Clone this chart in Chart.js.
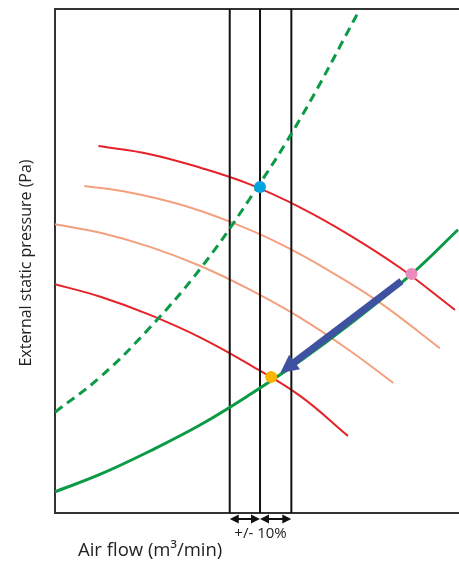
<!DOCTYPE html>
<html>
<head>
<meta charset="utf-8">
<script src="https://cdn.jsdelivr.net/npm/chart.js@4.4.1/dist/chart.umd.min.js"></script>
<style>
  html, body { margin: 0; padding: 0; background: #fff; overflow: hidden; }
  canvas { display: block; }
</style>
</head>
<body>
<canvas id="fanChart" width="465" height="563"></canvas>
<script>
// fan curves (air flow, static pressure)
const fanHighX = [4.3, 9.4, 14.4, 19.3, 24.3, 29.2, 34.2, 39.6];
const fanHighY = [72.8, 71.2, 68.5, 65.2, 60.6, 55.1, 48.6, 40.3];
const fanMid1X = [2.9, 7.4, 12.4, 17.3, 22.3, 27.2, 32.2, 38.1];
const fanMid1Y = [64.9, 63.6, 61.2, 57.8, 53.4, 48.0, 41.7, 32.7];
const fanMid2X = [0, 4.5, 9.4, 14.4, 19.3, 24.3, 29.2, 33.5];
const fanMid2Y = [57.3, 55.6, 52.8, 49.0, 44.3, 38.7, 32.2, 25.8];
const fanLowX = [0, 4.5, 9.4, 14.4, 19.3, 24.3, 29.0];
const fanLowY = [45.4, 42.9, 39.3, 34.8, 29.4, 23.2, 15.3];

// system resistance curves
const sysHighX = [0, 4.5, 9.4, 14.4, 19.3, 24.3, 30.2];
const sysHighY = [20.0, 27.0, 36.8, 48.5, 62.4, 78.3, 100];
const sysX = [0, 4.5, 9.4, 14.4, 19.3, 24.3, 29.2, 35.3, 39.9];
const sysY = [4.2, 7.7, 12.3, 17.5, 23.5, 30.2, 37.5, 47.4, 56.2];

// rated flow and +/- 10% band
const bandX = [17.3, 20.3, 23.4];
const bandLabel = '+/- 10%';

// operating points
const pointX = [20.3, 21.4, 35.3];
const pointY = [64.7, 27.0, 47.4];
const pointColors = ['#00a3e0', '#f7b500', '#e98bbd'];

// shift of operating point (from, to)
const shiftX = [34.3, 22.3];
const shiftY = [46.0, 27.8];

const xTitle = 'Air flow (m³/min)';
const yTitle = 'External static pressure (Pa)';

const pts = (xs, ys) => xs.map((x, i) => ({ x: x, y: ys[i] }));

function lineSet(xs, ys, color, width, dash) {
    return {
        type: 'line',
        data: pts(xs, ys),
        borderColor: color,
        borderWidth: width,
        borderDash: dash || [],
        pointRadius: 0,
        fill: false,
        tension: 0.4
    };
}

const datasets = [];
// index 0: operating points, drawn on top
datasets.push({
    type: 'scatter',
    data: pts(pointX, pointY),
    pointRadius: 6,
    pointHoverRadius: 6,
    pointBackgroundColor: pointColors,
    pointBorderWidth: 0
});
datasets.push(lineSet(sysX, sysY, '#0b9a45', 3));
datasets.push(lineSet(sysHighX, sysHighY, '#0b9a45', 3, [9, 6]));
bandX.forEach(x => datasets.push(lineSet([x, x], [0, 100], '#111', 2)));
datasets.push(lineSet(fanHighX, fanHighY, '#e52228', 2));
datasets.push(lineSet(fanLowX, fanLowY, '#e52228', 2));
datasets.push(lineSet(fanMid1X, fanMid1Y, '#f4a07f', 2));
datasets.push(lineSet(fanMid2X, fanMid2Y, '#f4a07f', 2));

function arrowHead(ctx, x, y, ang, len, half) {
    ctx.beginPath();
    ctx.moveTo(x, y);
    ctx.lineTo(x - len * Math.cos(ang) + half * Math.sin(ang), y - len * Math.sin(ang) - half * Math.cos(ang));
    ctx.lineTo(x - len * Math.cos(ang) - half * Math.sin(ang), y - len * Math.sin(ang) + half * Math.cos(ang));
    ctx.closePath();
    ctx.fill();
}

const extras = {
    id: 'extras',
    afterDatasetDraw(chart, args) {
        // big arrow goes above the curves but under the dots
        if (args.index !== 1) return;
        const ctx = chart.ctx, xs = chart.scales.x, ys = chart.scales.y;
        const x0 = xs.getPixelForValue(shiftX[0]), y0 = ys.getPixelForValue(shiftY[0]);
        const x1 = xs.getPixelForValue(shiftX[1]), y1 = ys.getPixelForValue(shiftY[1]);
        const ang = Math.atan2(y1 - y0, x1 - x0);
        const headLen = 18;
        ctx.save();
        ctx.strokeStyle = '#3f51a1';
        ctx.fillStyle = '#3f51a1';
        ctx.lineWidth = 7;
        ctx.beginPath();
        ctx.moveTo(x0, y0);
        ctx.lineTo(x1 - (headLen - 2) * Math.cos(ang), y1 - (headLen - 2) * Math.sin(ang));
        ctx.stroke();
        arrowHead(ctx, x1, y1, ang, headLen, 9);
        ctx.restore();
    },
    afterDraw(chart) {
        const ctx = chart.ctx, xs = chart.scales.x, area = chart.chartArea;
        ctx.save();
        // +/- 10% double arrows under the axis
        const ay = area.bottom + 6;
        ctx.strokeStyle = '#111';
        ctx.fillStyle = '#111';
        ctx.lineWidth = 2;
        for (let i = 0; i < bandX.length - 1; i++) {
            const a = xs.getPixelForValue(bandX[i]), b = xs.getPixelForValue(bandX[i + 1]);
            ctx.beginPath();
            ctx.moveTo(a + 4, ay);
            ctx.lineTo(b - 4, ay);
            ctx.stroke();
            arrowHead(ctx, a, ay, Math.PI, 9, 4.5);
            arrowHead(ctx, b, ay, 0, 9, 4.5);
        }
        ctx.font = '15px "Open Sans"';
        ctx.textAlign = 'center';
        ctx.textBaseline = 'alphabetic';
        ctx.fillStyle = '#222';
        ctx.fillText(bandLabel, (xs.getPixelForValue(bandX[0]) + xs.getPixelForValue(bandX[2])) / 2, ay + 19);

        // axis titles
        ctx.font = '18.5px "Open Sans"';
        ctx.textAlign = 'left';
        ctx.fillText(xTitle, 78, 556);
        ctx.translate(31, (area.top + area.bottom) / 2 + 2);
        ctx.rotate(-Math.PI / 2);
        ctx.font = '16px "Open Sans"';
        ctx.textAlign = 'center';
        ctx.fillText(yTitle, 0, 0);
        ctx.restore();
    }
};

const frame = { display: true, color: '#333', width: 2 };

new Chart(document.getElementById('fanChart'), {
    type: 'line',
    data: { datasets: datasets },
    options: {
        responsive: false,
        animation: false,
        layout: { padding: { left: 55, top: 9, right: 0, bottom: 50 } },
        scales: {
            x: {
                type: 'linear', min: 0, max: 40,
                grid: { display: false, drawTicks: false },
                ticks: { display: false },
                border: frame
            },
            xTop: {
                type: 'linear', position: 'top', min: 0, max: 40,
                grid: { display: false, drawTicks: false },
                ticks: { display: false },
                border: frame
            },
            y: {
                type: 'linear', min: 0, max: 100,
                grid: { display: false, drawTicks: false },
                ticks: { display: false },
                border: frame
            }
        },
        plugins: {
            legend: { display: false },
            tooltip: { enabled: false }
        }
    },
    plugins: [extras]
});
</script>
</body>
</html>
